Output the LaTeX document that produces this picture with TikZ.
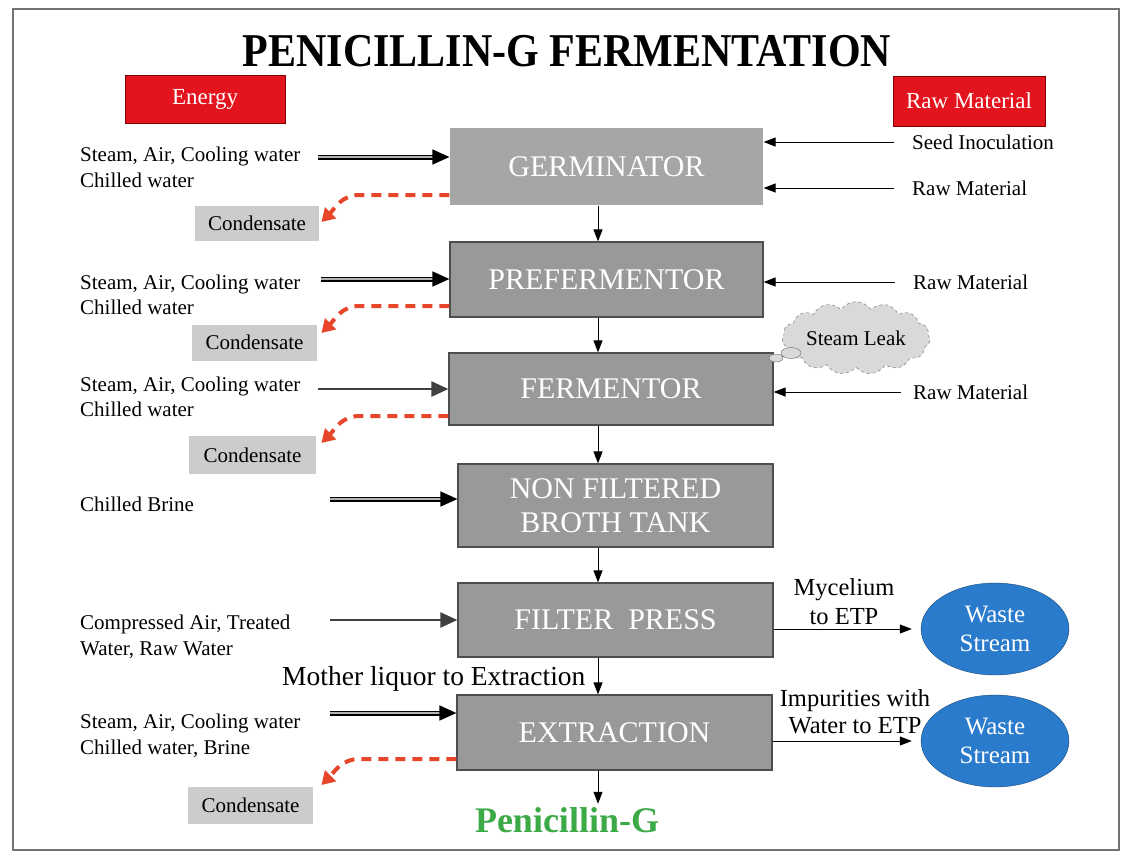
\documentclass[tikz,border=0pt]{standalone}
\usepackage{fontspec}
\setmainfont{Liberation Serif}
\usetikzlibrary{arrows.meta,shapes.geometric,shapes.symbols}

\definecolor{unitgray}{HTML}{999999}
\definecolor{germgray}{HTML}{A6A6A6}
\definecolor{unitedge}{HTML}{4D4D4D}
\definecolor{condgray}{HTML}{CCCCCC}
\definecolor{tagred}{HTML}{E3141E}
\definecolor{leakred}{HTML}{E8462A}
\definecolor{wasteblue}{HTML}{2A7BCB}
\definecolor{penigreen}{HTML}{3CAA46}

\begin{document}
\begin{tikzpicture}[x=1pt, y=-1pt,
	unit/.style = {draw=unitedge, line width=1.2pt, fill=unitgray, text=white, inner sep=0pt,
		minimum width=315pt, minimum height=75pt, align=center, font=\fontsize{30}{34}\selectfont},
	tag/.style = {draw=red!50!black, fill=tagred, text=white, inner sep=0pt, font=\fontsize{23}{26}\selectfont},
	cond/.style = {fill=condgray, inner sep=0pt, minimum width=125pt, minimum height=36pt, font=\fontsize{21}{24}\selectfont},
	note/.style = {align=left, anchor=west, inner sep=0pt, font=\fontsize{21}{25.5}\selectfont},
	waste/.style = {ellipse, draw=wasteblue!60!black, fill=wasteblue, text=white, inner sep=0pt,
		minimum width=148pt, minimum height=92pt, align=center, font=\fontsize{25}{29}\selectfont},
	puff/.style = {ellipse, draw=black!60, fill=gray!30, inner sep=0pt},
	flow/.style = {line width=1pt, -{Triangle[length=12pt,width=9pt]}},
	feedin/.style = {line width=2.4pt, draw=black!75, -{Triangle[length=17pt,width=15pt]}},
	feedpair/.style = {double=gray!60, double distance=2pt, line width=1.5pt, -{Triangle[length=17pt,width=15pt]}},
	feedraw/.style = {line width=1pt, shorten <=18pt, -{Triangle[length=12pt,width=9pt]}},
	leakflow/.style = {draw=leakred, line width=4pt, dash pattern=on 10pt off 7pt, -{Triangle[length=13pt,width=15pt]}}]
	\useasboundingbox (0,0) rectangle (1121,852);
	\draw[black!55, line width=1.6pt] (13,9) rectangle (1119,850);
	\node[font=\bfseries\fontsize{42}{46}\selectfont, yscale=1.12] (title) at (567,51) {PENICILLIN-G FERMENTATION};
	\node[tag, minimum width=160pt, minimum height=48pt] (energy) at (205,99) {Energy};
	\node[tag, minimum width=152pt, minimum height=50pt] (raw) at (969,101) {Raw Material};

	% process units
	\node[unit, fill=germgray, draw=none, minimum width=313pt, minimum height=77pt] (germ) at (606.5,166.5) {GERMINATOR};
	\node[unit, minimum width=313pt] (pref) at (606.5,279.5) {PREFERMENTOR};
	\node[unit, minimum width=324pt, minimum height=72pt] (ferm) at (611,389) {FERMENTOR};
	\node[unit, minimum height=83pt] (nfbt) at (615.5,505.5) {NON FILTERED\\BROTH TANK};
	\node[unit, minimum height=74pt] (fp) at (615.5,620) {FILTER~ PRESS};
	\node[unit] (ext) at (614.5,732.5) {EXTRACTION};
	\node[font=\bfseries\fontsize{36}{40}\selectfont, text=penigreen] (pen) at (567,820) {Penicillin-G};
	\coordinate (spine) at (598,0);
	\draw[flow] (spine |- germ.south) -- (spine |- pref.north);
	\draw[flow] (spine |- pref.south) -- (spine |- ferm.north);
	\draw[flow] (spine |- ferm.south) -- (spine |- nfbt.north);
	\draw[flow] (spine |- nfbt.south) -- (spine |- fp.north);
	\draw[flow] (spine |- fp.south) -- (spine |- ext.north);
	\draw[flow] (spine |- ext.south) -- (spine |- pen.north);
	\node[note, anchor=west, font=\fontsize{27.5}{30}\selectfont] (liquor) at (282,679) {Mother liquor to Extraction};

	% utilities in
	\node[note] (utila) at (80,167.5) {Steam, Air, Cooling water\\Chilled water};
	\node[note] (utilb) at (80,295) {Steam, Air, Cooling water\\Chilled water};
	\node[note] (utilc) at (80,397) {Steam, Air, Cooling water\\Chilled water};
	\node[note] (utild) at (80,504) {Chilled Brine};
	\node[note] (utile) at (80,637) {Compressed Air, Treated\\Water, Raw Water};
	\node[note] (utilf) at (80,736) {Steam, Air, Cooling water\\Chilled water, Brine};
	\coordinate (ina) at (318,157);
	\coordinate (inb) at (321,279);
	\coordinate (inc) at (318,389);
	\coordinate (ind) at (330,499);
	\coordinate (ine) at (330,620);
	\coordinate (inf) at (330,713);
	\draw[feedpair] (ina) -- (ina -| germ.west);
	\draw[feedpair] (inb) -- (inb -| pref.west);
	\draw[feedin] (inc) -- (inc -| ferm.west);
	\draw[feedpair] (ind) -- (ind -| nfbt.west);
	\draw[feedin] (ine) -- (ine -| fp.west);
	\draw[feedpair] (inf) -- (inf -| ext.west);

	% condensate out
	\node[cond, minimum width=124pt, minimum height=35pt] (conda) at (257,223.5) {Condensate};
	\node[cond] (condb) at (254.5,342.5) {Condensate};
	\node[cond, minimum width=127pt, minimum height=38pt] (condc) at (252.5,455) {Condensate};
	\node[cond, minimum height=37pt] (condd) at (250.5,805.5) {Condensate};
	\draw[leakflow] ([yshift=-28.5pt]germ.west) -- ++(-90,0) to[out=180,in=45] ++(-38,27);
	\draw[leakflow] ([yshift=-26.5pt]pref.west) -- ++(-90,0) to[out=180,in=45] ++(-38,27);
	\draw[leakflow] ([yshift=-27pt]ferm.west) -- ++(-89,0) to[out=180,in=45] ++(-38,27);
	\draw[leakflow] ([yshift=-26.5pt]ext.west) -- ++(-97,0) to[out=180,in=45] ++(-38,26);

	% raw material in
	\node[note] (seed) at (912,142) {Seed Inoculation};
	\node[note] (rawa) at (912,188) {Raw Material};
	\node[note] (rawb) at (913,282) {Raw Material};
	\node[note] (rawc) at (913,392) {Raw Material};
	\draw[feedraw] (seed.west) -- (seed.west -| germ.east);
	\draw[feedraw] (rawa.west) -- (rawa.west -| germ.east);
	\draw[feedraw] (rawb.west) -- (rawb.west -| pref.east);
	\draw[feedraw, shorten <=12pt] (rawc.west) -- (rawc.west -| ferm.east);

	% steam leak
	\node[cloud, cloud puffs=15, cloud puff arc=110, aspect=2.4, draw=black!60, dashed, fill=gray!30,
		minimum width=148pt, minimum height=62pt, inner sep=0pt, font=\fontsize{21}{24}\selectfont] (leak) at (856,338) {Steam Leak};
	\node[puff, minimum width=20pt, minimum height=11pt] (puffa) at (791,353) {};
	\node[puff, minimum width=14pt, minimum height=8pt] (puffb) at (776,358) {};

	% waste streams
	\node[waste] (wastea) at (995,629) {Waste\\Stream};
	\node[waste] (wasteb) at (995,741) {Waste\\Stream};
	\node[align=center, inner sep=0pt, font=\fontsize{24.5}{29}\selectfont] (myc) at (844,601.5) {Mycelium\\to ETP};
	\node[align=center, inner sep=0pt, font=\fontsize{24.5}{27}\selectfont] (imp) at (855,711.5) {Impurities with\\Water to ETP};
	\draw[flow, shorten >=9pt] ([yshift=-9pt]fp.east) -- (wastea.west);
	\draw[flow, shorten >=9pt] ([yshift=-8.5pt]ext.east) -- (wasteb.west);
\end{tikzpicture}
\end{document}
